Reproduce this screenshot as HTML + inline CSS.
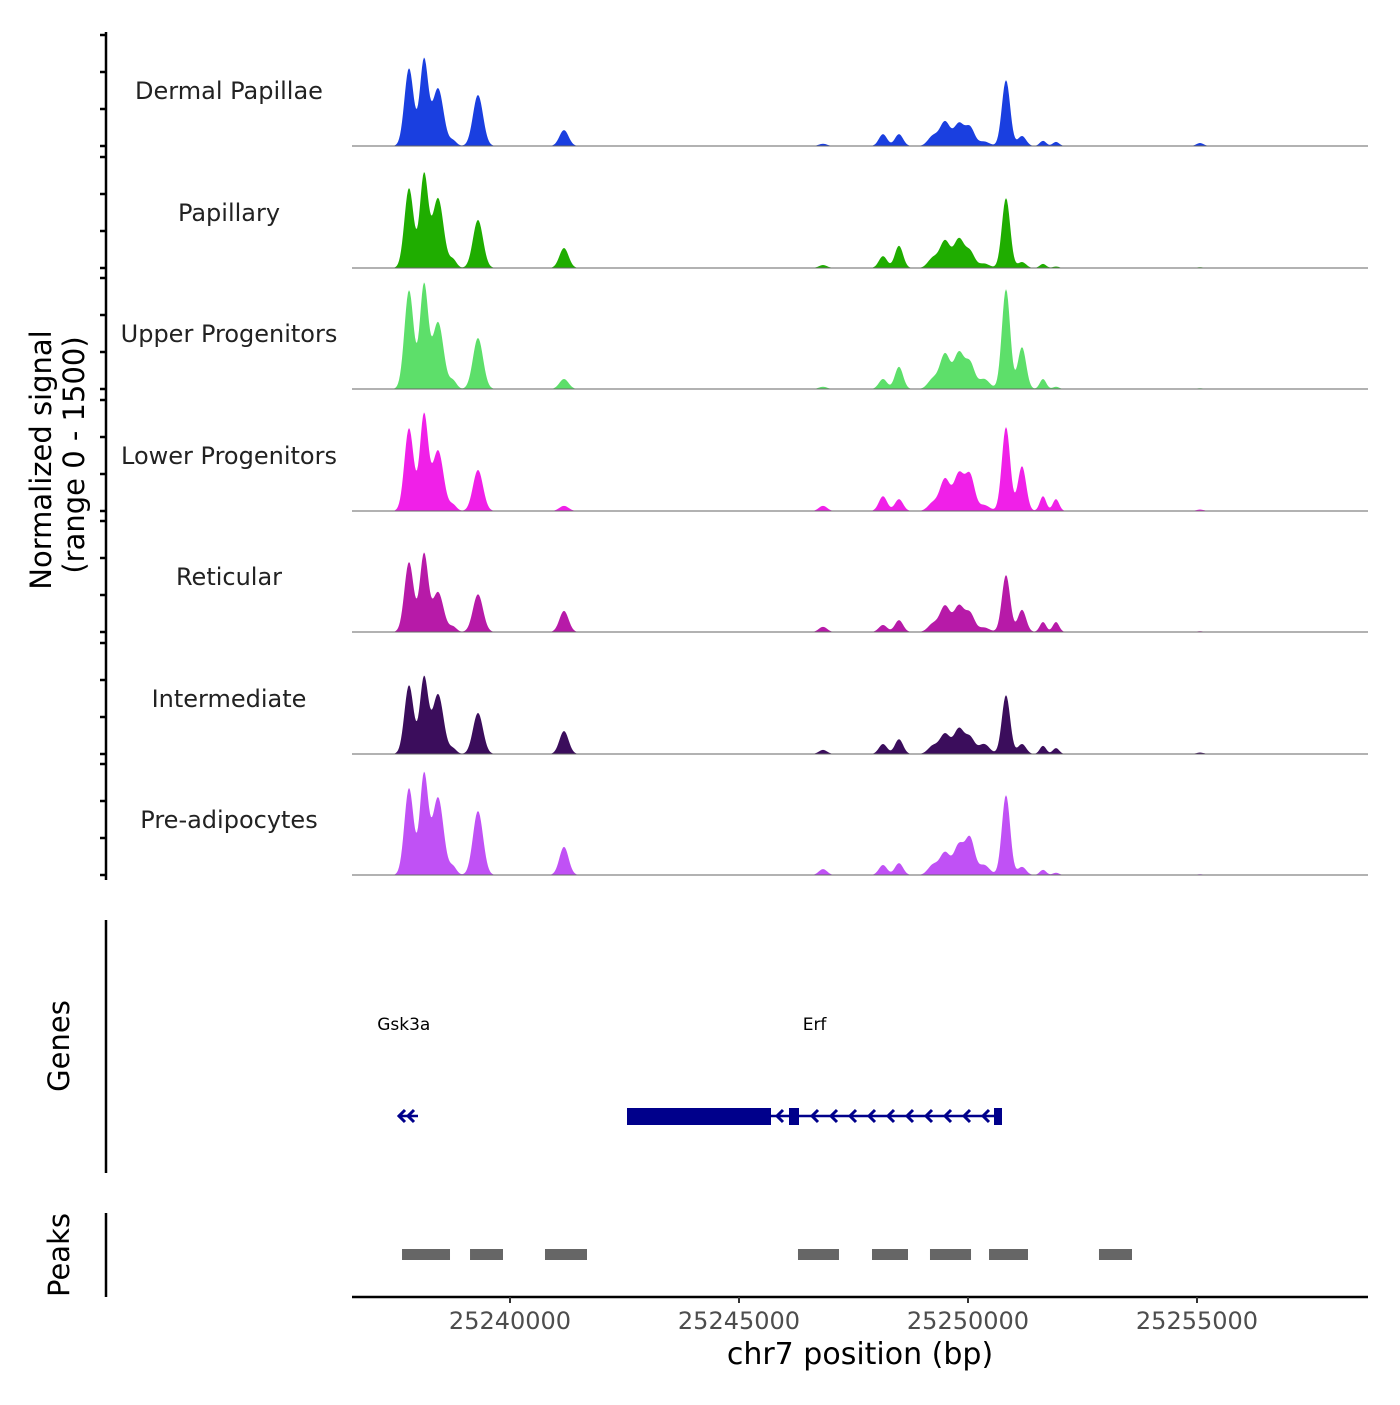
<!DOCTYPE html>
<html><head><meta charset="utf-8"><style>
body{margin:0;background:#fff;}
svg text{font-family:"DejaVu Sans","Liberation Sans",sans-serif;}
</style></head><body>
<svg id="chart" width="1400" height="1400" viewBox="0 0 1400 1400" xmlns="http://www.w3.org/2000/svg">
<g id="tracks"></g>
<line x1="106" y1="32" x2="106" y2="880" stroke="#000" stroke-width="2.5"/>
<g id="yticks"></g>
<text transform="translate(51,460) rotate(-90)" text-anchor="middle" font-size="29">Normalized signal</text>
<text transform="translate(84,455) rotate(-90)" text-anchor="middle" font-size="29">(range 0 - 1500)</text>
<line x1="106" y1="920" x2="106" y2="1173" stroke="#000" stroke-width="2.5"/>
<text transform="translate(69,1046) rotate(-90)" text-anchor="middle" font-size="29">Genes</text>
<line x1="106" y1="1213" x2="106" y2="1297" stroke="#000" stroke-width="2.5"/>
<text transform="translate(69,1255) rotate(-90)" text-anchor="middle" font-size="29">Peaks</text>
<g id="genes"></g>
<g id="peaks"></g>
<line x1="352" y1="1297" x2="1368" y2="1297" stroke="#000" stroke-width="2.5"/>
<g id="xticks"></g>
<text x="860" y="1364" text-anchor="middle" font-size="30">chr7 position (bp)</text>
</svg>
<script>
const trackNames=["Dermal Papillae","Papillary","Upper Progenitors","Lower Progenitors","Reticular","Intermediate","Pre-adipocytes"];
const trackColors=["#1a3fe0","#1fad00","#5ddf6a","#f020e8","#b71aa8","#3b0d5c","#c051f5"];
const peakCenters=[25237795,25238122,25238428,25238755,25239301,25241179,25246834,25248144,25248493,25249236,25249498,25249803,25250044,25250350,25250830,25251179,25251638,25251921,25255066];
const peakWidths=[100,90,120,80,110,100,90,90,90,110,110,110,100,120,90,90,70,70,80];
const sigDermal=[1050,1160,780,70,690,215,30,160,160,135,325,300,245,60,890,135,70,55,40];
const sigPapillary=[1080,1255,945,110,650,270,40,160,300,135,365,390,215,60,945,80,55,20,10];
const sigUpper=[1335,1400,905,110,690,135,30,135,300,135,470,485,340,135,1350,565,135,30,10];
const sigLower=[1120,1295,820,80,555,70,70,200,160,110,430,500,470,80,1135,605,200,160,20];
const sigReticular=[945,1050,540,70,510,285,70,95,160,110,350,350,245,60,770,300,135,135,10];
const sigIntermediate=[930,1025,810,70,555,310,55,135,200,110,270,340,215,135,795,135,110,80,20];
const sigPreadipo=[1175,1350,1050,110,865,380,80,135,160,135,300,405,485,135,1080,110,70,30,10];
const trackSignals=[sigDermal,sigPapillary,sigUpper,sigLower,sigReticular,sigIntermediate,sigPreadipo];
const xTicks=[25240000,25245000,25250000,25255000];
const peakStarts=[25237642,25239127,25240764,25246288,25247904,25249170,25250459,25252860];
const peakEnds=[25238690,25239847,25241681,25247183,25248690,25250066,25251310,25253581];
const geneNames=["Gsk3a","Erf"];
const geneLabelPos=[25237680,25246650];

const NS="http://www.w3.org/2000/svg";
const X0=352,X1=1368,D0=25236550,D1=25258734;
const xs=v=>X0+(v-D0)/(D1-D0)*(X1-X0);
const baselines=[146,268,389,511,632,754,875];
const ys=(v,b)=>b-v/1500*111;
function mk(tag,attrs,parent){const e=document.createElementNS(NS,tag);for(const k in attrs)e.setAttribute(k,attrs[k]);parent.appendChild(e);return e;}
const tg=document.getElementById('tracks');
trackNames.forEach((nm,i)=>{
  const b=baselines[i],sig=trackSignals[i];
  let d=`M${X0},${b}`;
  for(let px=X0;px<=X1;px+=1){
    const bp=D0+(px-X0)/(X1-X0)*(D1-D0);
    let v=0;for(let k=0;k<peakCenters.length;k++){const z=(bp-peakCenters[k])/peakWidths[k];v+=sig[k]*Math.exp(-z*z/2);}
    d+=`L${px},${ys(Math.min(v,1500),b).toFixed(2)}`;
  }
  d+=`L${X1},${b}Z`;
  const p=mk('path',{d:d,fill:trackColors[i]},tg);
  
  
  const l=mk('line',{x1:X0,x2:X1,y1:b,y2:b,stroke:'#666','stroke-width':1},tg);
  
  
  const t=mk('text',{x:229,y:b-47,'text-anchor':'middle','font-size':24,fill:'#222'},tg);
  t.textContent=nm;
  
  
  const yt=document.getElementById('yticks');
  [0,500,1000,1500].forEach(v=>{
    const tk=mk('line',{x1:100,x2:106,y1:ys(v,b),y2:ys(v,b),stroke:'#000','stroke-width':2.5},yt);
    
    
  });
});
const xg=document.getElementById('xticks');
xTicks.forEach(v=>{
  const tk=mk('line',{x1:xs(v),x2:xs(v),y1:1297,y2:1303,stroke:'#333','stroke-width':2},xg);
  
  
  const t=mk('text',{x:xs(v),y:1329,'text-anchor':'middle','font-size':24,fill:'#4d4d4d'},xg);
  t.textContent=v;
  
  
});
const pg=document.getElementById('peaks');
peakStarts.forEach((s,i)=>{
  const r=mk('rect',{x:xs(s),y:1249,width:xs(peakEnds[i])-xs(s),height:11,fill:'#666'},pg);
  
  
});
const gg=document.getElementById('genes');
geneNames.forEach((g,i)=>{
  const t=mk('text',{x:xs(geneLabelPos[i]),y:1030,'text-anchor':'middle','font-size':17,fill:'#000'},gg);
  t.textContent=g;
  
  
});
const C='#00008b';
const ln=mk('line',{x1:771,x2:1000,y1:1116,y2:1116,stroke:C,'stroke-width':2.5},gg);


const ex1=mk('rect',{x:627,y:1108,width:144,height:17,fill:C},gg);


const ex2=mk('rect',{x:789,y:1108,width:10,height:17,fill:C},gg);


const ex3=mk('rect',{x:994,y:1108,width:8,height:17,fill:C},gg);


[777,812,831,850,869,888,907,926,945,964,983,399,408].forEach(x=>{
  const a=mk('path',{d:`M${x+6},${1110}L${x},${1116}L${x+6},${1122}`,fill:'none',stroke:C,'stroke-width':3},gg);
  
  
});
const gl=mk('line',{x1:398,x2:418,y1:1116,y2:1116,stroke:C,'stroke-width':2.5},gg);


</script>
</body></html>
